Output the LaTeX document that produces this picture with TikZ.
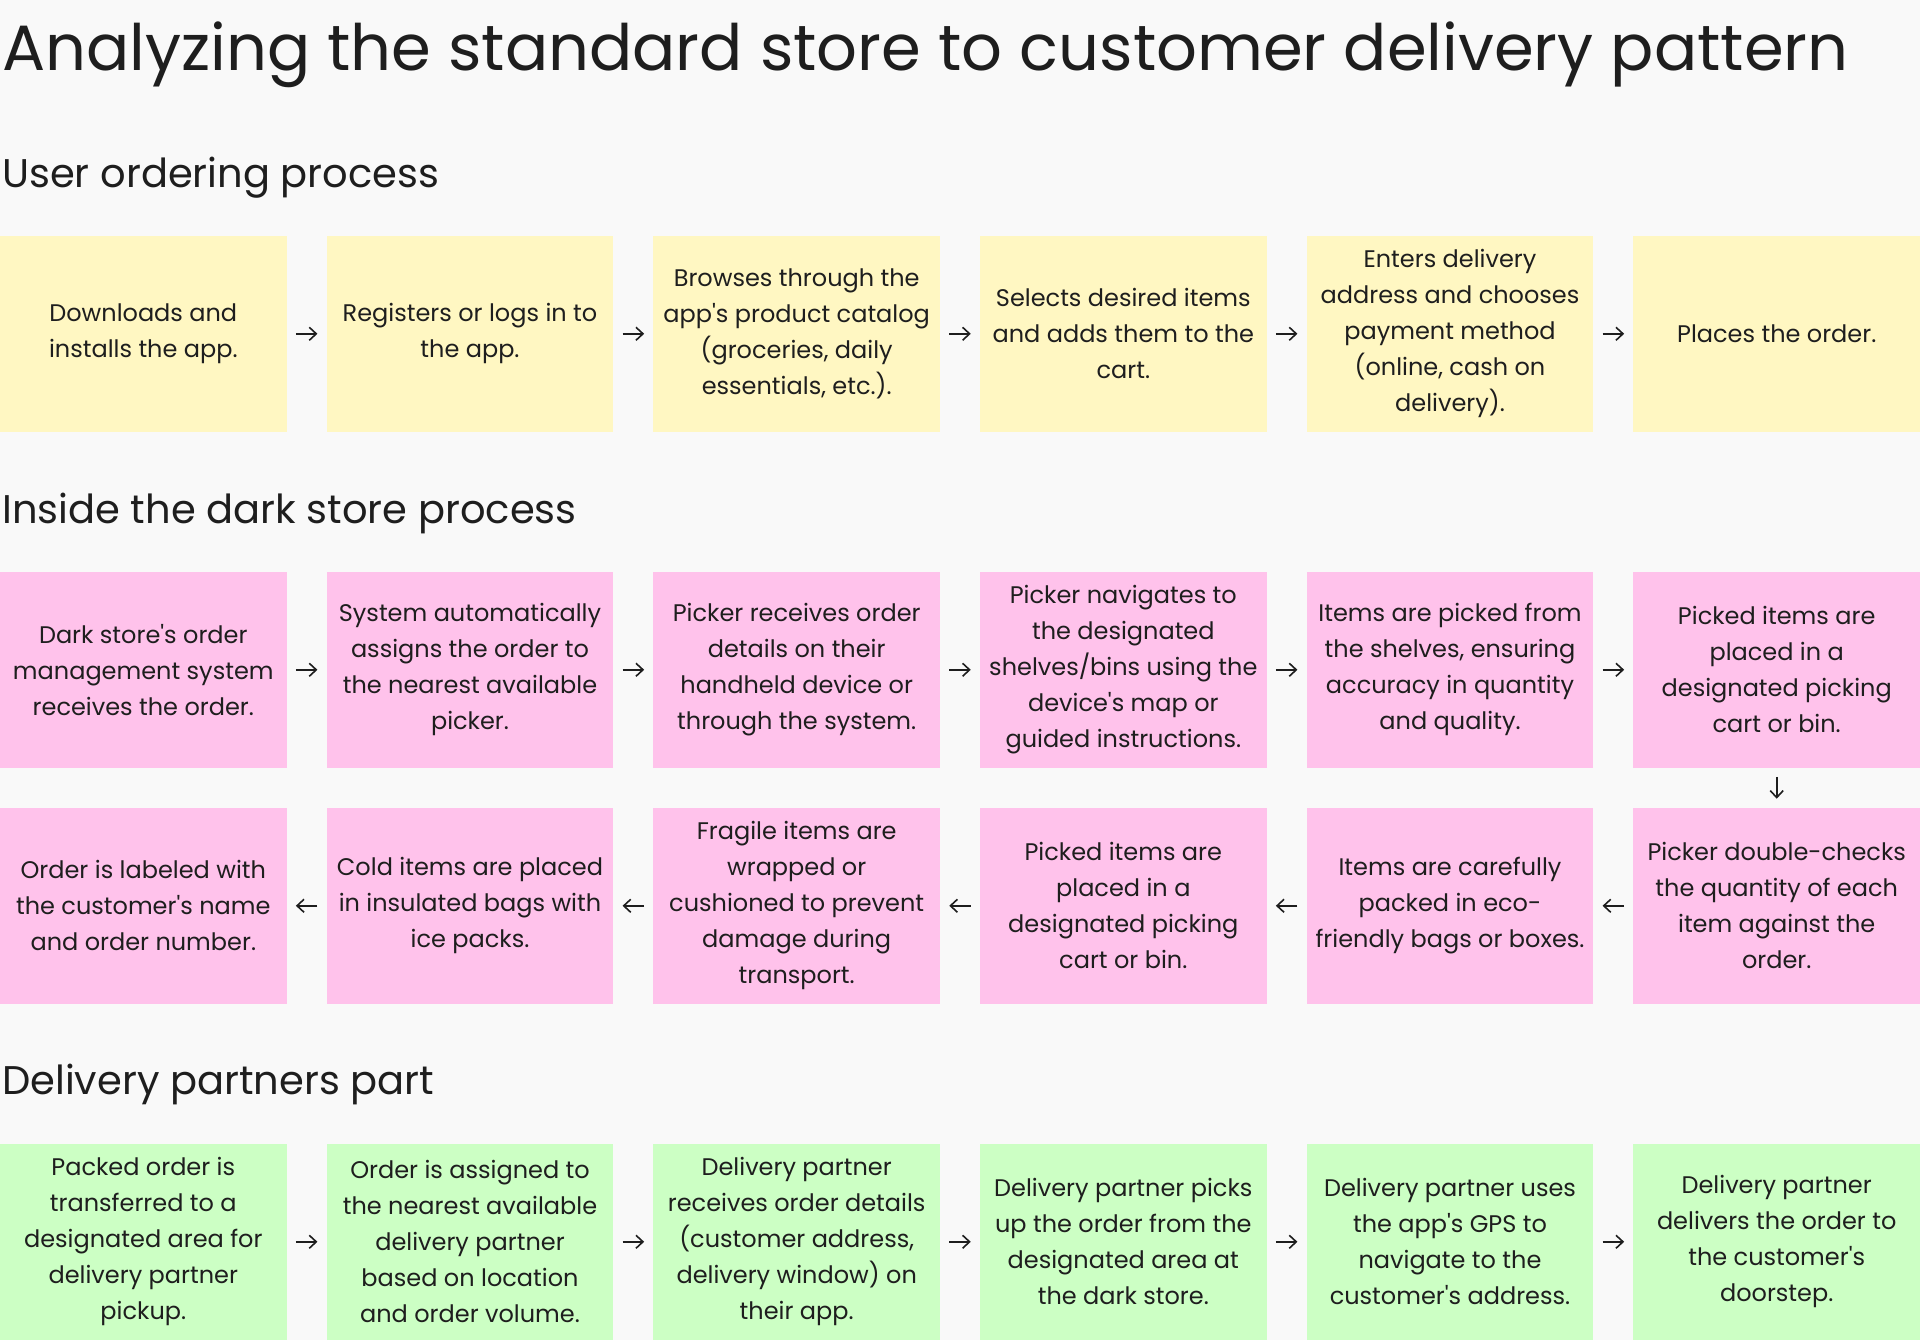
\documentclass[tikz,border=0pt]{standalone}
\usepackage{fontspec}
\setmainfont{Poppins}[Ligatures=TeXOff]
\usetikzlibrary{arrows.meta}
\definecolor{bgcol}{HTML}{F9F9F9}
\definecolor{ink}{HTML}{1E1E1E}
\definecolor{userfill}{HTML}{FFF7C2}
\definecolor{storefill}{HTML}{FFC2EB}
\definecolor{partnerfill}{HTML}{CCFFC4}
\tikzset{
	card/.style={minimum width=286.7pt, minimum height=195.7pt, inner sep=0pt,
		align=center, text=ink, font=\fontsize{24}{36}\selectfont},
	usercard/.style={card, fill=userfill},
	storecard/.style={card, fill=storefill},
	partnercard/.style={card, fill=partnerfill},
	heading/.style={anchor=base west, inner sep=0pt, text=ink, font=\fontsize{40}{48}\selectfont},
	flow/.style={draw=ink, line width=1.6pt, -{Straight Barb[length=7pt,width=13pt]},
		shorten >=9pt, shorten <=9pt}
}
\begin{document}
\begin{tikzpicture}[x=1pt,y=1pt]
		\useasboundingbox (0,0) rectangle (1920,1340);
		\fill[bgcol] (0,0) rectangle (1920,1340);
		\node[anchor=base west, inner sep=0pt, text=ink, font=\fontsize{64}{74}\selectfont] (title) at (2,1269) {Analyzing the standard store to customer delivery pattern};
		% user ordering
		\node[heading] (userhead) at (2,1152) {User ordering process};
		\node[usercard] (u1) at (143.3,1006.2) {Downloads and\\installs the app.};
		\node[usercard] (u2) at (470,1006.2) {Registers or logs in to\\the app.};
		\node[usercard] (u3) at (796.7,1006.2) {Browses through the\\app's product catalog\\(groceries, daily\\essentials, etc.).};
		\node[usercard] (u4) at (1123.3,1006.2) {Selects desired items\\and adds them to the\\cart.};
		\node[usercard] (u5) at (1450,1006.2) {Enters delivery\\address and chooses\\payment method\\(online, cash on\\delivery).};
		\node[usercard] (u6) at (1776.7,1006.2) {Places the order.};
		\draw[flow] (u1) -- (u2);
		\draw[flow] (u2) -- (u3);
		\draw[flow] (u3) -- (u4);
		\draw[flow] (u4) -- (u5);
		\draw[flow] (u5) -- (u6);
		% dark store
		\node[heading] (storehead) at (2,816) {Inside the dark store process};
		\node[storecard] (s1) at (143.3,670.2) {Dark store's order\\management system\\receives the order.};
		\node[storecard] (s2) at (470,670.2) {System automatically\\assigns the order to\\the nearest available\\picker.};
		\node[storecard] (s3) at (796.7,670.2) {Picker receives order\\details on their\\handheld device or\\through the system.};
		\node[storecard] (s4) at (1123.3,670.2) {Picker navigates to\\the designated\\shelves/bins using the\\device's map or\\guided instructions.};
		\node[storecard] (s5) at (1450,670.2) {Items are picked from\\the shelves, ensuring\\accuracy in quantity\\and quality.};
		\node[storecard] (s6) at (1776.7,670.2) {Picked items are\\placed in a\\designated picking\\cart or bin.};
		\node[storecard] (p1) at (143.3,434.2) {Order is labeled with\\the customer's name\\and order number.};
		\node[storecard] (p2) at (470,434.2) {Cold items are placed\\in insulated bags with\\ice packs.};
		\node[storecard] (p3) at (796.7,434.2) {Fragile items are\\wrapped or\\cushioned to prevent\\damage during\\transport.};
		\node[storecard] (p4) at (1123.3,434.2) {Picked items are\\placed in a\\designated picking\\cart or bin.};
		\node[storecard] (p5) at (1450,434.2) {Items are carefully\\packed in eco-\\friendly bags or boxes.};
		\node[storecard] (p6) at (1776.7,434.2) {Picker double-checks\\the quantity of each\\item against the\\order.};
		\draw[flow] (s1) -- (s2);
		\draw[flow] (s2) -- (s3);
		\draw[flow] (s3) -- (s4);
		\draw[flow] (s4) -- (s5);
		\draw[flow] (s5) -- (s6);
		\draw[flow] (s6) -- (p6);
		\draw[flow] (p6) -- (p5);
		\draw[flow] (p5) -- (p4);
		\draw[flow] (p4) -- (p3);
		\draw[flow] (p3) -- (p2);
		\draw[flow] (p2) -- (p1);
		% delivery partners
		\node[heading] (partnerhead) at (2,245) {Delivery partners part};
		\node[partnercard] (d1) at (143.3,98.2) {Packed order is\\transferred to a\\designated area for\\delivery partner\\pickup.};
		\node[partnercard] (d2) at (470,98.2) {Order is assigned to\\the nearest available\\delivery partner\\based on location\\and order volume.};
		\node[partnercard] (d3) at (796.7,98.2) {Delivery partner\\receives order details\\(customer address,\\delivery window) on\\their app.};
		\node[partnercard] (d4) at (1123.3,98.2) {Delivery partner picks\\up the order from the\\designated area at\\the dark store.};
		\node[partnercard] (d5) at (1450,98.2) {Delivery partner uses\\the app's GPS to\\navigate to the\\customer's address.};
		\node[partnercard] (d6) at (1776.7,98.2) {Delivery partner\\delivers the order to\\the customer's\\doorstep.};
		\draw[flow] (d1) -- (d2);
		\draw[flow] (d2) -- (d3);
		\draw[flow] (d3) -- (d4);
		\draw[flow] (d4) -- (d5);
		\draw[flow] (d5) -- (d6);
\end{tikzpicture}
\end{document}
